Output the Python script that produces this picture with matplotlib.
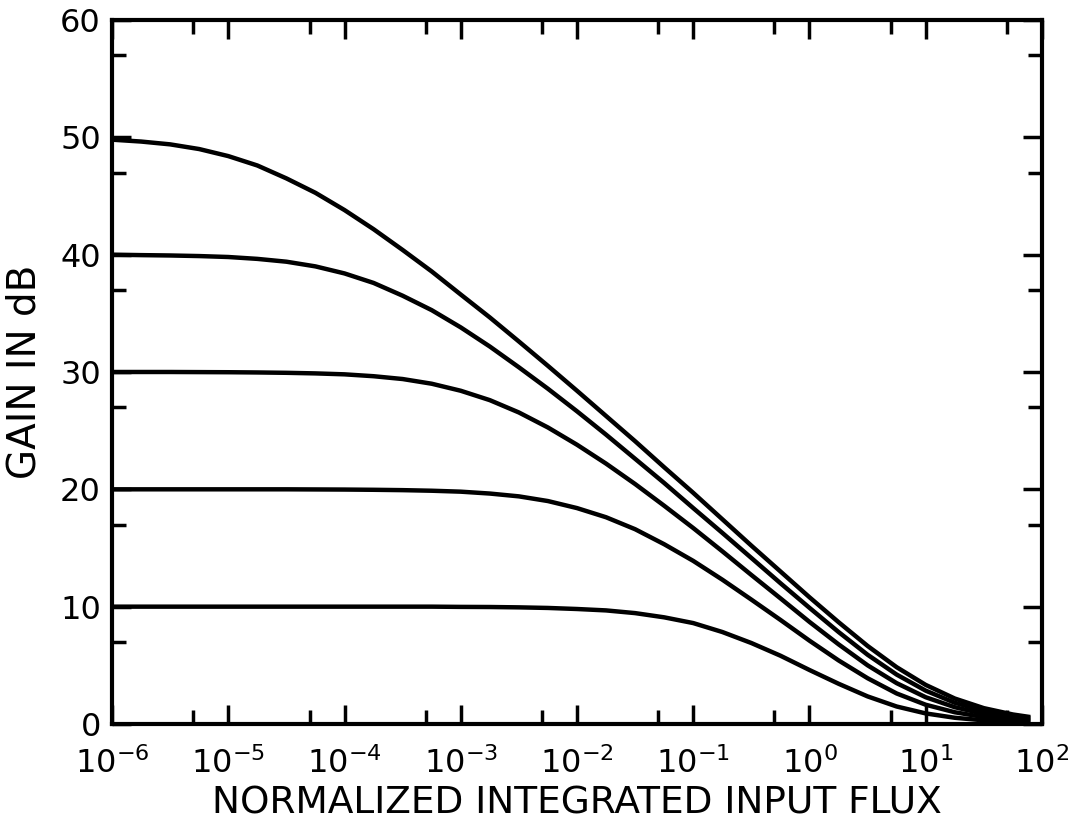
import matplotlib
matplotlib.use("Agg")
import matplotlib.pyplot as plt
import numpy as np
from matplotlib.ticker import FixedLocator, FuncFormatter

# log10 of normalized integrated input flux (quarter-decade samples)
log_flux = [-6.0, -5.75, -5.5, -5.25, -5.0, -4.75, -4.5, -4.25, -4.0,
            -3.75, -3.5, -3.25, -3.0, -2.75, -2.5, -2.25, -2.0, -1.75,
            -1.5, -1.25, -1.0, -0.75, -0.5, -0.25, 0.0, 0.25, 0.5, 0.75,
            1.0, 1.25, 1.5, 1.75, 1.9]

# gain in dB for each small-signal gain curve
gain_50 = [49.8, 49.64, 49.4, 49.0, 48.4, 47.6, 46.5, 45.27, 43.8,
           42.17, 40.4, 38.57, 36.6, 34.65, 32.6, 30.52, 28.4, 26.25,
           24.1, 21.88, 19.7, 17.45, 15.2, 13.0, 10.8, 8.68, 6.65, 4.84,
           3.33, 2.17, 1.35, 0.81, 0.59]
gain_40 = [40.0, 39.96, 39.93, 39.88, 39.8, 39.64, 39.4, 39.0, 38.4,
           37.59, 36.5, 35.27, 33.8, 32.17, 30.4, 28.57, 26.65, 24.66,
           22.6, 20.54, 18.4, 16.29, 14.15, 12.0, 9.9, 7.84, 5.9, 4.21,
           2.84, 1.81, 1.11, 0.66, 0.48]
gain_30 = [30.0, 30.0, 30.0, 29.99, 29.98, 29.96, 29.93, 29.88, 29.8,
           29.64, 29.4, 29.0, 28.4, 27.6, 26.55, 25.27, 23.8, 22.19,
           20.45, 18.6, 16.7, 14.72, 12.7, 10.71, 8.7, 6.79, 5.0, 3.48,
           2.28, 1.43, 0.86, 0.5, 0.36]
gain_20 = [20.0, 20.0, 20.0, 20.0, 20.0, 20.0, 20.0, 19.99, 19.98,
           19.96, 19.93, 19.88, 19.8, 19.64, 19.4, 19.0, 18.4, 17.62,
           16.6, 15.32, 13.9, 12.3, 10.6, 8.87, 7.1, 5.42, 3.9, 2.6,
           1.64, 1.0, 0.59, 0.34, 0.25]
gain_10 = [10.0, 10.0, 10.0, 10.0, 10.0, 10.0, 10.0, 10.0, 10.0,
           10.0, 10.0, 10.0, 9.98, 9.97, 9.94, 9.89, 9.8, 9.68,
           9.45, 9.09, 8.6, 7.84, 6.9, 5.82, 4.6, 3.43, 2.35, 1.49,
           0.9, 0.53, 0.31, 0.17, 0.12]

x_decades = [-6, -5, -4, -3, -2, -1, 0, 1, 2]
y_major = [0, 10, 20, 30, 40, 50, 60]
y_minor = [7, 17, 27, 37, 47, 57]

fig = plt.figure(figsize=(10.71, 8.26), dpi=100)
ax = fig.add_axes([0.1046, 0.1235, 0.8683, 0.8523])

flux = 10.0 ** np.array(log_flux)
for g in (gain_50, gain_40, gain_30, gain_20, gain_10):
    ax.plot(flux, g, color="black", lw=3.2, solid_capstyle="butt",
            solid_joinstyle="round")

ax.set_xscale("log")
ax.set_xlim(1e-6, 1e2)
ax.set_ylim(0, 60)

for s in ax.spines.values():
    s.set_linewidth(3.0)

major_x = [10.0 ** d for d in x_decades]
minor_x = [5 * 10.0 ** d for d in x_decades[:-1]]
ax.xaxis.set_major_locator(FixedLocator(major_x))
ax.xaxis.set_minor_locator(FixedLocator(minor_x))
ax.xaxis.set_major_formatter(
    FuncFormatter(lambda v, p: r"$\mathregular{10^{%d}}$" % round(np.log10(v))))
ax.xaxis.set_minor_formatter(FuncFormatter(lambda v, p: ""))

ax.yaxis.set_major_locator(FixedLocator(y_major))
ax.yaxis.set_minor_locator(FixedLocator(y_minor))

ax.tick_params(axis="both", which="both", direction="in", top=True,
               right=True, width=2.5, colors="black")
ax.tick_params(axis="x", which="major", length=14, labelsize=23, pad=17)
ax.tick_params(axis="x", which="minor", length=10)
ax.tick_params(axis="y", which="major", length=14, labelsize=23, pad=8)
ax.tick_params(axis="y", which="minor", length=10)

ax.set_xlabel("NORMALIZED INTEGRATED INPUT FLUX", fontsize=27, labelpad=4)
ax.set_ylabel("GAIN IN dB", fontsize=28, labelpad=12)

fig.savefig("out.png", dpi=100)
